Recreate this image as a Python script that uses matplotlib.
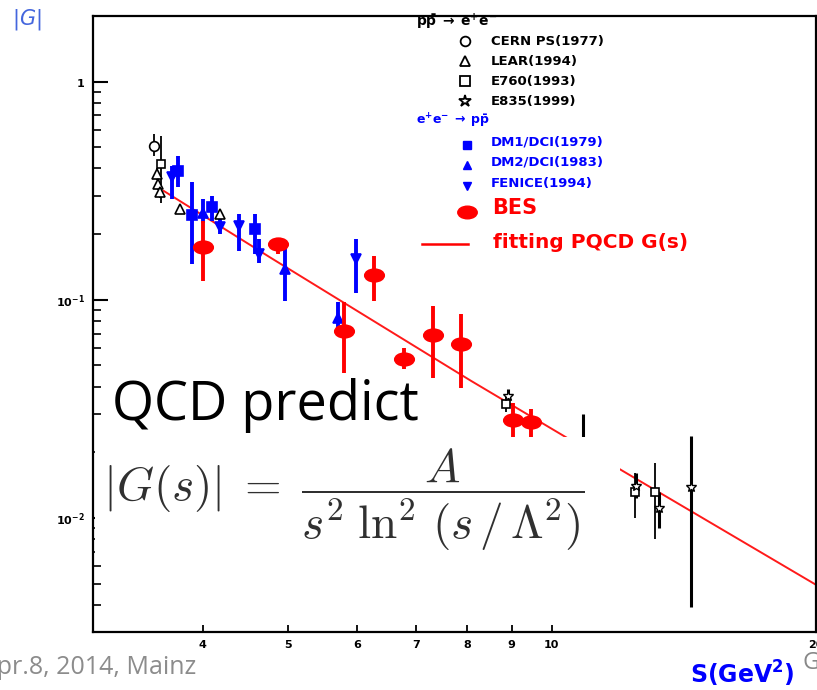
import numpy as np
import matplotlib
matplotlib.use("Agg")
import matplotlib.pyplot as plt
from matplotlib.path import Path
from matplotlib.transforms import Affine2D
from matplotlib.patches import Rectangle
from matplotlib.ticker import FixedLocator, NullFormatter, FixedFormatter

plt.rcParams['mathtext.fontset'] = 'dejavusans'

# ---------------- data (s in GeV^2, |G|) ----------------
cern_s = [3.52]
cern_g = [0.508]
cern_lo = [0.458]
cern_hi = [0.577]

lear_s = [3.55, 3.56, 3.58, 3.77, 4.19]
lear_g = [0.377, 0.339, 0.311, 0.261, 0.247]
lear_lo = [0.355, 0.320, 0.292, 0.248, 0.236]
lear_hi = [0.400, 0.358, 0.330, 0.274, 0.258]

e760_s = [3.59, 8.87, 12.44, 13.10]
e760_g = [0.420, 0.0332, 0.0131, 0.0131]
e760_lo = [0.279, 0.0305, 0.0100, 0.0080]
e760_hi = [0.565, 0.0360, 0.0161, 0.0179]

e835_s = [8.91, 10.85, 12.48, 13.24, 14.40]
e835_g = [0.0363, 0.0214, 0.0140, 0.0111, 0.0138]
e835_lo = [0.0340, 0.0148, 0.0124, 0.0090, 0.0039]
e835_hi = [0.0390, 0.0300, 0.0161, 0.0131, 0.0238]

dm1_s = [3.75, 3.89, 4.10, 4.59]
dm1_g = [0.391, 0.245, 0.265, 0.211]
dm1_lo = [0.3275, 0.146, 0.230, 0.163]
dm1_hi = [0.4575, 0.345, 0.300, 0.248]

dm2_s = [4.00, 4.97, 5.71]
dm2_g = [0.251, 0.138, 0.0829]
dm2_lo = [0.225, 0.0989, 0.0746]
dm2_hi = [0.290, 0.177, 0.0972]

fen_s = [3.69, 4.19, 4.40, 4.64, 5.98]
fen_g = [0.364, 0.215, 0.2185, 0.162, 0.154]
fen_lo = [0.290, 0.201, 0.168, 0.148, 0.108]
fen_hi = [0.412, 0.238, 0.248, 0.190, 0.190]

bes_s = [4.00, 4.87, 5.79, 6.27, 6.79, 7.33, 7.88, 9.03, 9.48]
bes_g = [0.174, 0.180, 0.0721, 0.130, 0.0538, 0.0689, 0.0626, 0.0281, 0.0274]
bes_lo = [0.122, 0.1626, 0.0464, 0.0989, 0.0481, 0.0440, 0.0396, 0.0233, 0.0233]
bes_hi = [0.230, 0.1925, 0.0972, 0.159, 0.0604, 0.0939, 0.0860, 0.0338, 0.0315]

fit_s = [3.61, 4.78, 8.09, 11.9, 20.1]
fit_g = [0.316, 0.156, 0.0425, 0.0169, 0.00488]

xtick_vals = [4, 5, 6, 7, 8, 9, 10, 20]
xtick_labels = ['4', '5', '6', '7', '8', '9', '10', '20']

# ---------------- figure ----------------
W, H = 817, 690
fig = plt.figure(figsize=(W / 100, H / 100), dpi=100)

def fx(px):
    return px / W

def fy(py):
    return 1 - py / H

ax = fig.add_axes([fx(93), fy(632), fx(816) - fx(93), fy(16) - fy(632)])
ax.set_xscale('log')
ax.set_yscale('log')
ax.set_xlim(3, 20)
ax.set_ylim(0.003, 2)

for sp in ax.spines.values():
    sp.set_linewidth(1.6)
    sp.set_color('black')

ellipse = Path.unit_circle().transformed(Affine2D().scale(1.0, 0.65))


def eb(s, g, lo, hi, color, marker, ms, lw, mfc=None, mew=1.2, z=3):
    s = np.array(s)
    g = np.array(g)
    yerr = [g - np.array(lo), np.array(hi) - g]
    ax.errorbar(s, g, yerr=yerr, fmt='none', ecolor=color, elinewidth=lw,
                capsize=0, zorder=z)
    ax.plot(s, g, linestyle='none', marker=marker, ms=ms, color=color,
            mfc=mfc if mfc is not None else color, mec=color, mew=mew, zorder=z + 0.5)


ax.plot(fit_s, fit_g, color='#ff1a1a', lw=1.4, zorder=2.5)

eb(e760_s, e760_g, e760_lo, e760_hi, 'black', 's', 6, 1.3, mfc='white')
eb(e835_s, e835_g, e835_lo, e835_hi, 'black', '*', 8, 2.2, mfc='white', mew=1.0)
eb(cern_s, cern_g, cern_lo, cern_hi, 'black', 'o', 7, 1.3, mfc='white')
eb(lear_s, lear_g, lear_lo, lear_hi, 'black', '^', 7, 1.3, mfc='white')
eb(dm1_s, dm1_g, dm1_lo, dm1_hi, 'blue', 's', 7, 2.8)
eb(dm2_s, dm2_g, dm2_lo, dm2_hi, 'blue', '^', 7, 2.8)
eb(fen_s, fen_g, fen_lo, fen_hi, 'blue', 'v', 7, 2.8)
eb(bes_s, bes_g, bes_lo, bes_hi, 'red', ellipse, 14, 2.8, z=4)

# ticks
ax.tick_params(which='both', direction='in', top=False, right=False)
ax.tick_params(axis='y', which='major', length=11, width=1.5, labelsize=8, pad=6)
ax.tick_params(axis='y', which='minor', length=6, width=1.2)
ax.xaxis.set_major_locator(FixedLocator(xtick_vals))
ax.xaxis.set_major_formatter(FixedFormatter(xtick_labels))
ax.xaxis.set_minor_locator(FixedLocator([]))
ax.tick_params(axis='x', which='major', length=5, width=1.3, labelsize=8, pad=6)
for lab in ax.get_xticklabels():
    lab.set_fontweight('bold')
ax.yaxis.set_major_locator(FixedLocator([0.01, 0.1, 1]))
ax.yaxis.set_major_formatter(FixedFormatter([r'$\mathbf{10^{-2}}$', r'$\mathbf{10^{-1}}$', r'$\mathbf{1}$']))
ax.yaxis.set_minor_locator(FixedLocator([m * d for d in [0.001, 0.01, 0.1, 1] for m in range(2, 10)]))
ax.yaxis.set_minor_formatter(NullFormatter())

# ---------------- legend (manual) ----------------
leg_font = dict(fontsize=9.5, fontweight='bold', family='DejaVu Sans')
fig.text(fx(416), fy(22), r'$\mathbf{p\bar{p}\;\rightarrow\;e^{+}e^{-}}$', color='black',
         va='center', ha='left', fontsize=10)
black_items = [('o', 'CERN PS(1977)', 41), ('^', 'LEAR(1994)', 61),
               ('s', 'E760(1993)', 81), ('*', 'E835(1999)', 101)]
for m, t, py in black_items:
    ax.plot([fx(465)], [fy(py)], transform=fig.transFigure, marker=m, ms=7 if m != '*' else 9,
            mfc='white', mec='black', mew=1.3, color='black', clip_on=False)
    fig.text(fx(491), fy(py), t, color='black', va='center', ha='left', **leg_font)
fig.text(fx(416), fy(121), r'$\mathbf{e^{+}e^{-}\;\rightarrow\;p\bar{p}}$', color='blue',
         va='center', ha='left', fontsize=9)
blue_items = [('s', 'DM1/DCI(1979)', 142), ('^', 'DM2/DCI(1983)', 162), ('v', 'FENICE(1994)', 183)]
for m, t, py in blue_items:
    ax.plot([fx(467)], [fy(py + 3)], transform=fig.transFigure, marker=m, ms=6,
            color='blue', clip_on=False)
    fig.text(fx(491), fy(py), t, color='blue', va='center', ha='left', **leg_font)
ax.plot([fx(467)], [fy(212)], transform=fig.transFigure, marker=ellipse, ms=14,
        color='red', clip_on=False)
fig.text(fx(492), fy(208), 'BES', color='red', va='center', ha='left',
         fontsize=15, fontweight='bold')
ax.plot([fx(422), fx(468)], [fy(244), fy(244)], transform=fig.transFigure,
        color='red', lw=1.8, clip_on=False)
fig.text(fx(493), fy(243), 'fitting PQCD G(s)', color='red', va='center', ha='left',
         fontsize=14.5, fontweight='bold')

# ---------------- overlays ----------------
fig.text(fx(12), fy(20), r'$|G|$', color='#4466dd', fontsize=15, va='center', ha='left')
fig.text(fx(112), fy(420), 'QCD predict', color='black', fontsize=39, va='baseline',
         ha='left', family='Open Sans', zorder=10)
fig.add_artist(Rectangle((fx(95), fy(557)), fx(620) - fx(95), fy(437) - fy(557),
                         transform=fig.transFigure, facecolor='white', edgecolor='none',
                         zorder=8))
fig.text(fx(103), fy(500),
         r'$|G(s)|\;=\;\dfrac{A}{s^{2}\;\ln^{2}\,(s\,/\,\Lambda^{2})}$',
         color='#303030', fontsize=34, va='center', ha='left', zorder=9,
         math_fontfamily='cm')
fig.text(fx(-19), fy(667), 'Apr.8, 2014, Mainz', color='#8c8c8c', fontsize=18,
         va='center', ha='left', family='Open Sans')
fig.text(fx(690), fy(674), r'S(GeV$^{\mathbf{2}}$)', color='blue', fontsize=17,
         fontweight='bold', va='center', ha='left')
fig.text(fx(803), fy(663), 'G', color='#888888', fontsize=17, va='center', ha='left',
         family='Open Sans', zorder=10)

fig.savefig('out.png', dpi=100)
